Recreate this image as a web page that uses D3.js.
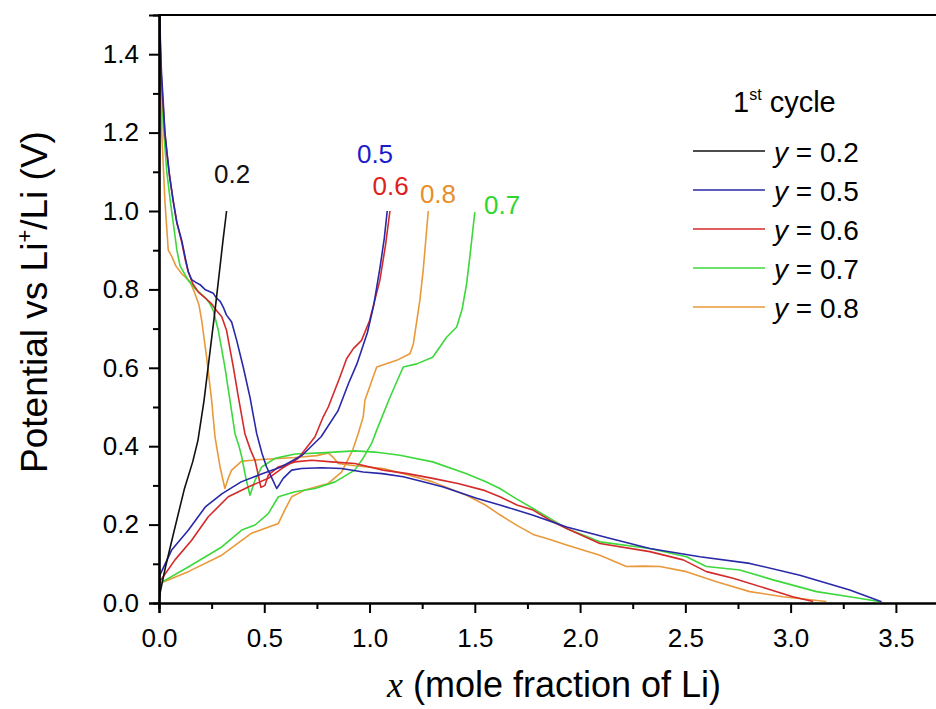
<!DOCTYPE html>
<html><head><meta charset="utf-8">
<script src="https://cdn.jsdelivr.net/npm/d3@7"></script>
<style>body{margin:0;background:#fff}svg{display:block}text{font-family:"Liberation Sans",Arial,sans-serif}</style>
</head><body><svg id="c" width="936" height="709"></svg>
<script>
// ---- data (x = mole fraction of Li, V = potential vs Li+/Li) ----
const seriesNames = ["y = 0.2","y = 0.5","y = 0.6","y = 0.7","y = 0.8"];
const seriesYLabels = ["0.2","0.5","0.6","0.7","0.8"];
const xTicks = [0,0.5,1.0,1.5,2.0,2.5,3.0,3.5];
const yTicks = [0,0.2,0.4,0.6,0.8,1.0,1.2,1.4];

const y02Charge = [[0,0.0],[0.005,0.025],[0.03,0.09],[0.07,0.18],[0.12,0.29],[0.16,0.36],[0.185,0.415],[0.214,0.517],[0.266,0.746],[0.304,0.925],[0.321,1.0]];

const y05Discharge = [[0,1.6],[0.005,1.45],[0.012,1.35],[0.02,1.28],[0.028,1.2],[0.037,1.154],[0.05,1.09],[0.067,1.027],[0.085,0.97],[0.108,0.925],[0.125,0.88],[0.139,0.845],[0.155,0.825],[0.175,0.818],[0.195,0.812],[0.218,0.8],[0.258,0.79],[0.274,0.777],[0.29,0.77],[0.305,0.755],[0.32,0.735],[0.345,0.717],[0.369,0.67],[0.4,0.602],[0.432,0.525],[0.464,0.432],[0.49,0.38],[0.511,0.347],[0.535,0.32],[0.559,0.292],[0.575,0.305],[0.59,0.318],[0.63,0.339],[0.677,0.343],[0.772,0.345],[0.867,0.343],[0.97,0.334],[1.06,0.33],[1.16,0.322],[1.25,0.31],[1.35,0.296],[1.508,0.267],[1.619,0.25],[1.777,0.224],[1.936,0.194],[2.126,0.167],[2.331,0.139],[2.569,0.118],[2.806,0.101],[3.044,0.071],[3.281,0.033],[3.432,0.003]];
const y05Charge = [[0,0.02],[0.003,0.07],[0.06,0.135],[0.14,0.186],[0.22,0.245],[0.3,0.279],[0.39,0.309],[0.49,0.33],[0.58,0.347],[0.68,0.377],[0.77,0.424],[0.85,0.49],[0.9,0.56],[0.94,0.61],[0.99,0.69],[1.02,0.76],[1.05,0.857],[1.07,0.93],[1.084,1.0]];

const y06Discharge = [[0,1.6],[0.004,1.45],[0.01,1.35],[0.018,1.28],[0.028,1.2],[0.037,1.15],[0.05,1.09],[0.067,1.027],[0.085,0.97],[0.108,0.92],[0.125,0.875],[0.139,0.845],[0.16,0.815],[0.187,0.793],[0.22,0.778],[0.25,0.763],[0.275,0.745],[0.298,0.73],[0.321,0.695],[0.353,0.602],[0.377,0.525],[0.408,0.432],[0.435,0.39],[0.456,0.364],[0.47,0.33],[0.484,0.295],[0.503,0.3],[0.519,0.326],[0.567,0.347],[0.646,0.36],[0.725,0.364],[0.82,0.36],[0.93,0.356],[1.065,0.339],[1.18,0.33],[1.3,0.318],[1.42,0.305],[1.54,0.288],[1.619,0.271],[1.7,0.25],[1.777,0.237],[1.857,0.211],[1.936,0.19],[2.094,0.152],[2.331,0.131],[2.49,0.11],[2.6,0.08],[2.727,0.063],[2.885,0.037],[3.01,0.016],[3.107,0.004]];
const y06Charge = [[0,0.02],[0.003,0.054],[0.076,0.11],[0.155,0.16],[0.234,0.22],[0.329,0.271],[0.424,0.296],[0.519,0.318],[0.583,0.343],[0.662,0.369],[0.741,0.424],[0.78,0.475],[0.804,0.5],[0.859,0.576],[0.891,0.623],[0.923,0.649],[0.962,0.67],[1.0,0.72],[1.049,0.823],[1.075,0.91],[1.097,1.0]];

const y07Discharge = [[0,1.6],[0.006,1.45],[0.012,1.33],[0.02,1.22],[0.037,1.1],[0.055,1.02],[0.07,0.96],[0.085,0.9],[0.1,0.86],[0.139,0.823],[0.175,0.8],[0.218,0.78],[0.24,0.765],[0.258,0.746],[0.27,0.72],[0.282,0.695],[0.313,0.602],[0.337,0.517],[0.361,0.432],[0.38,0.4],[0.393,0.373],[0.412,0.32],[0.432,0.275],[0.445,0.295],[0.456,0.313],[0.488,0.347],[0.551,0.369],[0.646,0.38],[0.772,0.383],[0.93,0.388],[1.026,0.385],[1.144,0.377],[1.3,0.36],[1.461,0.33],[1.55,0.31],[1.619,0.292],[1.7,0.265],[1.777,0.241],[1.857,0.216],[1.936,0.19],[2.094,0.156],[2.331,0.139],[2.505,0.118],[2.6,0.093],[2.759,0.084],[2.917,0.059],[3.123,0.029],[3.28,0.016],[3.42,0.004]];
const y07Charge = [[0,0.02],[0.003,0.05],[0.139,0.092],[0.298,0.143],[0.393,0.186],[0.456,0.199],[0.519,0.228],[0.567,0.271],[0.646,0.284],[0.741,0.292],[0.836,0.309],[0.93,0.339],[0.97,0.37],[1.01,0.407],[1.034,0.441],[1.097,0.525],[1.16,0.602],[1.224,0.61],[1.3,0.627],[1.366,0.678],[1.414,0.704],[1.44,0.75],[1.461,0.814],[1.48,0.9],[1.5,0.997]];

const y08Discharge = [[0,1.6],[0.003,1.45],[0.008,1.3],[0.013,1.2],[0.028,1.026],[0.044,0.9],[0.06,0.885],[0.08,0.86],[0.108,0.84],[0.147,0.82],[0.171,0.789],[0.19,0.76],[0.203,0.72],[0.226,0.627],[0.25,0.517],[0.266,0.424],[0.29,0.347],[0.313,0.292],[0.33,0.32],[0.345,0.339],[0.393,0.362],[0.488,0.366],[0.646,0.371],[0.75,0.376],[0.804,0.383],[0.83,0.37],[0.851,0.356],[0.93,0.35],[1.065,0.343],[1.18,0.327],[1.3,0.309],[1.461,0.275],[1.55,0.25],[1.619,0.225],[1.7,0.198],[1.777,0.175],[1.857,0.162],[1.936,0.148],[2.094,0.122],[2.22,0.093],[2.3,0.094],[2.379,0.093],[2.505,0.08],[2.648,0.054],[2.806,0.029],[2.964,0.016],[3.17,0.004]];
const y08Charge = [[0,0.02],[0.003,0.05],[0.139,0.08],[0.298,0.122],[0.44,0.178],[0.567,0.203],[0.6,0.24],[0.63,0.271],[0.693,0.288],[0.804,0.305],[0.867,0.334],[0.92,0.39],[0.946,0.432],[0.97,0.475],[0.978,0.517],[1.034,0.602],[1.129,0.619],[1.192,0.636],[1.208,0.661],[1.239,0.772],[1.255,0.85],[1.263,0.9],[1.279,1.0]];

const lineColors = ["#111111","#2828a8","#d42a2a","#3cd83c","#e8993a"];
const labelColors = ["#111111","#1c1ccc","#dd2020","#2ed52e","#e88e2a"];
const seriesSegments = [[y02Charge],[y05Discharge,y05Charge],[y06Discharge,y06Charge],[y07Discharge,y07Charge],[y08Discharge,y08Charge]];
// curve-end labels: (x, V) of each label's baseline centre
const curveLabelPos = [[0.347,1.072],[1.026,1.123],[1.10,1.042],[1.63,0.993],[1.325,1.02]];

// ---- layout ----
const svg = d3.select("#c");
const L = 159, T = 15, B = 603, R = 938;
const x = d3.scaleLinear().domain([0,3.7]).range([L,R]);
const y = d3.scaleLinear().domain([0,1.5]).range([B,T]);

svg.append("clipPath").attr("id","clip").append("rect")
  .attr("x",L).attr("y",T).attr("width",R-L).attr("height",B-T);

const line = d3.line().x(d=>x(d[0])).y(d=>y(d[1]));
const g = svg.append("g").attr("clip-path","url(#clip)");
[4,3,2,1,0].forEach(i=>{
  seriesSegments[i].forEach(seg=>{
    g.append("path").attr("d",line(seg)).attr("fill","none")
     .attr("stroke",lineColors[i]).attr("stroke-width",1.6).attr("stroke-linejoin","round");
  });
});

// axes
const xAxis = d3.axisBottom(x).tickValues(xTicks).tickFormat(d3.format(".1f")).tickSize(10).tickPadding(9);
const xMinor = d3.axisBottom(x).tickValues(d3.range(0.25,3.7,0.5)).tickFormat("").tickSize(6);
const yAxis = d3.axisLeft(y).tickValues(yTicks).tickFormat(d3.format(".1f")).tickSize(10).tickPadding(10);
const yMinor = d3.axisLeft(y).tickValues(d3.range(0.1,1.5,0.2)).tickFormat("").tickSize(6);

function styleAxis(sel){
  sel.select(".domain").attr("stroke","#000").attr("stroke-width",2.2);
  sel.selectAll(".tick line").attr("stroke","#000").attr("stroke-width",2);
  sel.selectAll(".tick text").attr("font-size",26).attr("fill","#000")
     .attr("font-family","'Liberation Sans',Arial,sans-serif");
}
const gx = svg.append("g").attr("transform",`translate(0,${B})`).call(xAxis); styleAxis(gx);
const gxm = svg.append("g").attr("transform",`translate(0,${B})`).call(xMinor); styleAxis(gxm);
const gy = svg.append("g").attr("transform",`translate(${L},0)`).call(yAxis); styleAxis(gy);
const gym = svg.append("g").attr("transform",`translate(${L},0)`).call(yMinor); styleAxis(gym);
gx.selectAll(".tick text").attr("dy","0.95em");
svg.append("line").attr("x1",L-1).attr("x2",R).attr("y1",T).attr("y2",T).attr("stroke","#000").attr("stroke-width",2.2);

// curve labels
curveLabelPos.forEach((p,i)=>{
  svg.append("text").attr("x",x(p[0])).attr("y",y(p[1])).attr("text-anchor","middle")
    .attr("font-size",26).attr("fill",labelColors[i]).text(seriesYLabels[i]);
});

// axis titles
svg.append("text").attr("transform",`translate(47,302) rotate(-90)`).attr("text-anchor","middle")
  .attr("font-size",37).attr("fill","#000")
  .call(t=>{t.append("tspan").text("Potential vs Li");
            t.append("tspan").attr("font-size",22).attr("dy",-15).text("+");
            t.append("tspan").attr("dy",15).text("/Li (V)");});
svg.append("text").attr("x",554).attr("y",697).attr("text-anchor","middle").attr("font-size",36).attr("fill","#000")
  .call(t=>{t.append("tspan").attr("font-family","'Liberation Serif','Times New Roman',serif").attr("font-style","italic").text("x");
            t.append("tspan").text(" (mole fraction of Li)");});

// legend
const lg = svg.append("g");
lg.append("text").attr("x",733).attr("y",112).attr("font-size",29).attr("fill","#000")
  .call(t=>{t.append("tspan").text("1");
            t.append("tspan").attr("font-size",16).attr("dy",-12).text("st");
            t.append("tspan").attr("dy",12).text(" cycle");});
seriesNames.forEach((n,i)=>{
  const ly = 151 + i*39;
  lg.append("line").attr("x1",693).attr("x2",765).attr("y1",ly).attr("y2",ly)
    .attr("stroke",lineColors[i]).attr("stroke-width",1.6);
  lg.append("text").attr("x",774).attr("y",ly+11).attr("font-size",28).attr("fill","#000")
    .call(t=>{t.append("tspan").attr("font-style","italic").text("y");
              t.append("tspan").text(n.slice(1));});
});
</script></body></html>
